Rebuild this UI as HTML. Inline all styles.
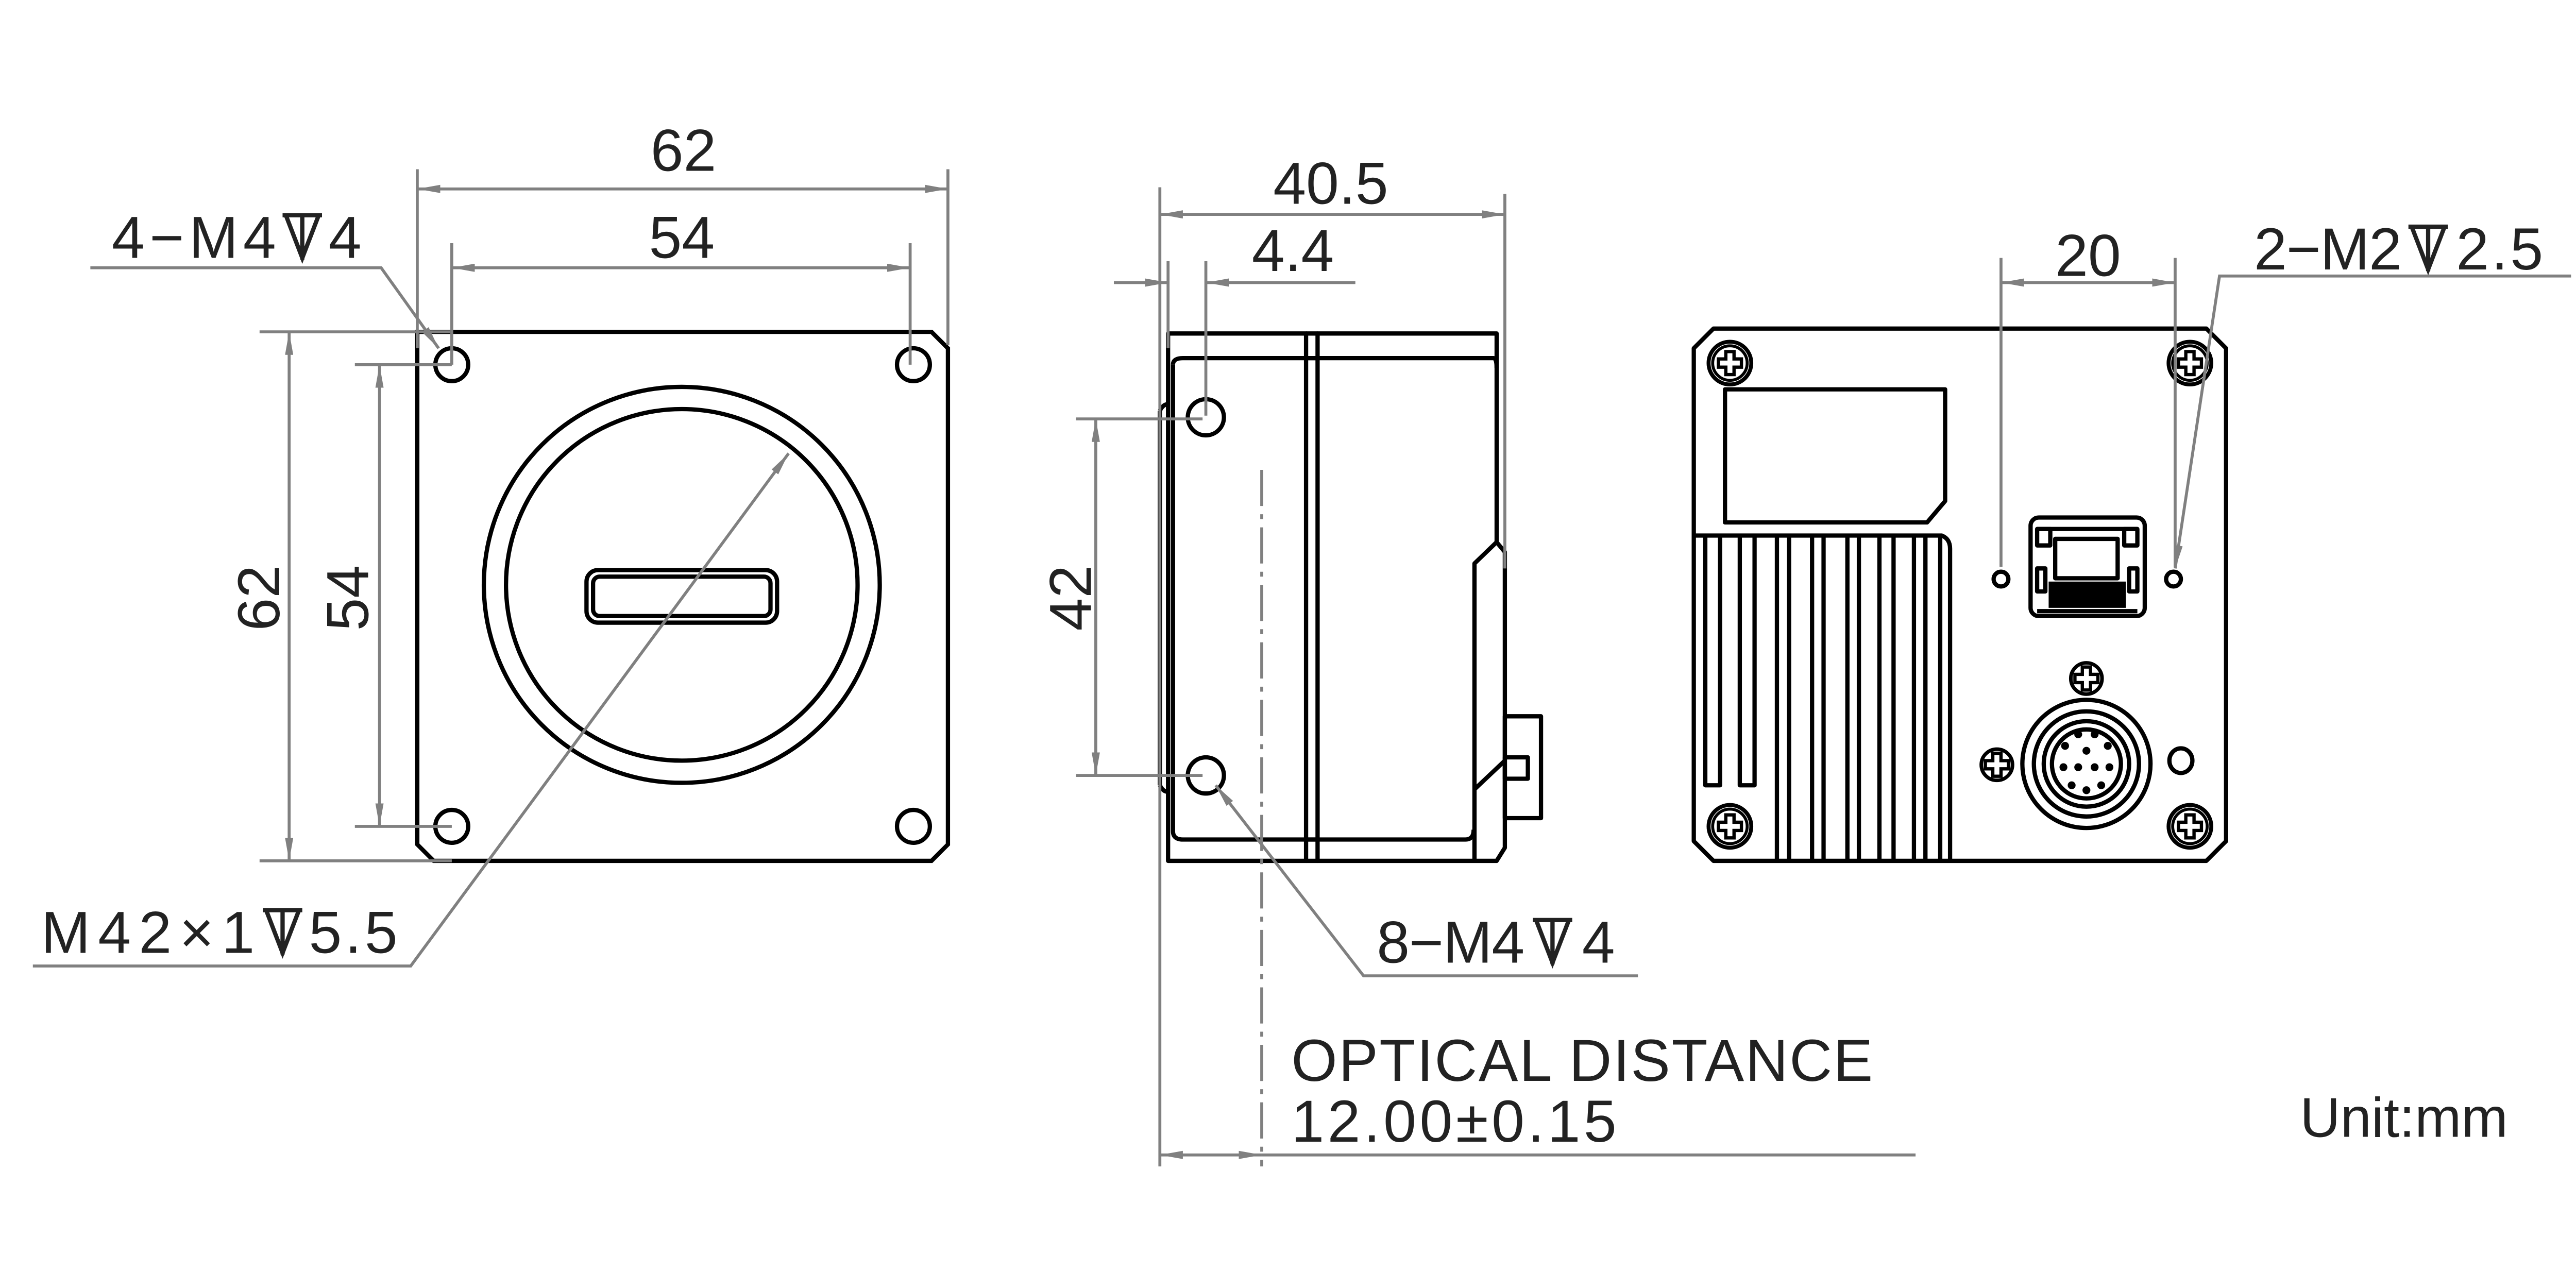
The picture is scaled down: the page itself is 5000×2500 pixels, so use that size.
<!DOCTYPE html>
<html><head><meta charset="utf-8"><style>html,body{margin:0;padding:0;background:#fff}svg{display:block}</style></head>
<body>
<svg xmlns="http://www.w3.org/2000/svg" width="5000" height="2500" viewBox="0 0 1568 784">
<defs>
<marker id="a" viewBox="0 0 14 5" refX="14" refY="2.5" markerWidth="14" markerHeight="5" markerUnits="userSpaceOnUse" orient="auto-start-reverse"><path d="M0,0 L14,2.5 L0,5 Z" fill="#808080"/></marker>
<g id="scr"><circle r="13" fill="none" stroke="#000" stroke-width="2.4"/><circle r="10.5" fill="none" stroke="#000" stroke-width="1.8"/><path d="M-2.5,-7 h5 v4.5 h4.5 v5 h-4.5 v4.5 h-5 v-4.5 h-4.5 v-5 h4.5 z" fill="none" stroke="#000" stroke-width="2"/></g>
<g id="scr2"><circle r="9.5" fill="none" stroke="#000" stroke-width="2.2"/><path d="M-2.5,-7 h5 v4.5 h4.5 v5 h-4.5 v4.5 h-5 v-4.5 h-4.5 v-5 h4.5 z" fill="none" stroke="#000" stroke-width="2"/></g>
<g id="dep"><path d="M0,0 H24 M2,0 L12,26 L22,0 M12,0 V27" fill="none" stroke="#222" stroke-width="2.6"/></g>
</defs>
<g font-family="Liberation Sans, sans-serif" font-size="36" fill="#222">

<!-- FRONT VIEW -->
<g fill="none" stroke="#000" stroke-width="2.6">
<path d="M254,202 H567 L577,212 V514 L567,524 H264 L254,514 Z"/>
<circle cx="275" cy="222" r="10"/><circle cx="556" cy="222" r="10"/>
<circle cx="275" cy="503" r="10"/><circle cx="556" cy="503" r="10"/>
<circle cx="415" cy="356" r="120.5"/><circle cx="415" cy="356" r="107"/>
<rect x="357" y="347" width="116" height="32" rx="7"/>
<rect x="361" y="351" width="108" height="24" rx="4"/>
</g>
<g fill="none" stroke="#808080" stroke-width="1.8">
<path d="M254,103 V212 M577,103 V210 M275,148 V222 M554,148 V222"/>
<path d="M254,115 H577" marker-start="url(#a)" marker-end="url(#a)"/>
<path d="M275,163 H554" marker-start="url(#a)" marker-end="url(#a)"/>
<path d="M158,202 H274 M158,524 H275 M216,222 H275 M216,503 H275"/>
<path d="M176,202 V524" marker-start="url(#a)" marker-end="url(#a)"/>
<path d="M231,222 V503" marker-start="url(#a)" marker-end="url(#a)"/>
<path d="M55,163 H232 L267,212" marker-end="url(#a)"/>
<path d="M20,588 H250 L480,276" marker-end="url(#a)"/>
</g>
<text x="416" y="104" text-anchor="middle">62</text>
<text x="415" y="157" text-anchor="middle">54</text>
<text transform="translate(170,364) rotate(-90)" text-anchor="middle">62</text>
<text transform="translate(224,364) rotate(-90)" text-anchor="middle">54</text>
<text x="68" y="157" textLength="100">4−M4</text><use href="#dep" x="172" y="131"/><text x="200" y="157">4</text>
<text x="25" y="580" textLength="130">M42×1</text><use href="#dep" x="160" y="554"/><text x="188" y="580" textLength="54">5.5</text>

<!-- SIDE VIEW -->
<g fill="none" stroke="#000" stroke-width="2.6" stroke-linejoin="round">
<path d="M711,203 V524 H795 V203 Z"/>
<path d="M706,250 V478 M706,250 Q708,246 711,246 M706,478 Q708,482 711,482"/>
<path d="M795,203 H802 M795,218 H802 M795,511 H802 M795,524 H802"/>
<path d="M802,203 H911 V330 L916,336 V516 L911,524 H802 Z"/>
<path d="M911,330 L897.5,343 V524"/>
<path d="M898,480 L916,463"/>
<path d="M714,222 Q714,218 720,218 H909 Q911,218 911,224"/>
<path d="M714,222 V506 Q714,511 720,511 H892 Q897,511 897,505"/>
<rect x="916" y="436" width="22" height="62"/>
<rect x="916" y="461" width="14" height="13"/>
<circle cx="734" cy="254" r="11"/><circle cx="734" cy="472" r="11"/>
</g>
<g fill="none" stroke="#808080" stroke-width="1.8">
<path d="M706,114 V710 M916,118 V346"/>
<path d="M706,130.5 H916" marker-start="url(#a)" marker-end="url(#a)"/>
<path d="M711,159 V212 M734,159 V253"/>
<path d="M678,172 H711" marker-end="url(#a)"/>
<path d="M825,172 H734" marker-end="url(#a)"/>
<path d="M655,255 H732 M655,472 H732"/>
<path d="M667,255 V472" marker-start="url(#a)" marker-end="url(#a)"/>
<path d="M768,286 V710" stroke-dasharray="22,5,3,5"/>
<path d="M997,594 H830 L740,478" marker-end="url(#a)"/>
<path d="M706,703 H768" marker-start="url(#a)" marker-end="url(#a)"/>
<path d="M768,703 H1166"/>
</g>
<text x="810" y="124" text-anchor="middle">40.5</text>
<text x="787" y="165" text-anchor="middle">4.4</text>
<text transform="translate(664,364) rotate(-90)" text-anchor="middle">42</text>
<text x="838" y="586" textLength="90">8−M4</text><use href="#dep" x="933" y="560"/><text x="963" y="586">4</text>
<text x="786" y="658" textLength="354">OPTICAL DISTANCE</text>
<text x="786" y="695" textLength="198">12.00±0.15</text>

<!-- REAR VIEW -->
<g fill="none" stroke="#000" stroke-width="2.6" stroke-linejoin="round">
<path d="M1043,200 H1343 L1355,212 V512 L1343,524 H1043 L1031,512 V212 Z"/>
<path d="M1050,237 H1184 V305 L1173,318 H1050 Z"/>
<path d="M1031,326 H1182 Q1187,328 1187,334 V524"/>
<path d="M1038,326 V478 H1047 V326 M1059,326 V478 H1068 V326"/>
<path d="M1081.6,326 V524 M1089,326 V524 M1103,326 V524 M1110,326 V524 M1124.5,326 V524 M1131.5,326 V524 M1144,326 V524 M1152.6,326 V524 M1165,326 V524 M1172,326 V524 M1181,326 V524"/>
<rect x="1236" y="315" width="69.5" height="60" rx="5"/>
<path d="M1240,322 H1301 M1240,372 H1301"/>
<rect x="1251" y="328" width="38" height="24"/>
<rect x="1240" y="322" width="8" height="10"/><rect x="1293" y="322" width="8" height="10"/>
<rect x="1240" y="346" width="5" height="14"/><rect x="1296" y="346" width="5" height="14"/>
<circle cx="1218" cy="352.5" r="4.5"/><circle cx="1323" cy="352.5" r="4.5"/>
<circle cx="1270" cy="465" r="39"/><circle cx="1270" cy="465" r="32"/>
<circle cx="1270" cy="465" r="26"/><circle cx="1270" cy="465" r="21"/>
<ellipse cx="1327.5" cy="463" rx="7" ry="7.5"/>
</g>
<g fill="#000">
<circle cx="1265" cy="447" r="2.4"/><circle cx="1275" cy="447" r="2.4"/>
<circle cx="1257" cy="454" r="2.4"/><circle cx="1270" cy="457" r="2.4"/><circle cx="1283" cy="454" r="2.4"/>
<circle cx="1256" cy="467" r="2.4"/><circle cx="1265" cy="467" r="2.4"/><circle cx="1275" cy="467" r="2.4"/><circle cx="1284" cy="467" r="2.4"/>
<circle cx="1261" cy="478" r="2.4"/><circle cx="1270" cy="481" r="2.4"/><circle cx="1279" cy="478" r="2.4"/>
<rect x="1247" y="354" width="47" height="16"/>
</g>
<use href="#scr" x="1053" y="221"/><use href="#scr" x="1333" y="221"/>
<use href="#scr" x="1053" y="503"/><use href="#scr" x="1333" y="503"/>
<use href="#scr2" x="1270" y="413"/><use href="#scr2" x="1215.5" y="465.5"/>
<g fill="none" stroke="#808080" stroke-width="1.8">
<path d="M1218,157 V345 M1324,157 V345"/>
<path d="M1218,172 H1324" marker-start="url(#a)" marker-end="url(#a)"/>
<path d="M1565,168 H1351 L1324,346" marker-end="url(#a)"/>
</g>
<text x="1271" y="168" text-anchor="middle">20</text>
<text x="1372" y="164" textLength="90">2−M2</text><use href="#dep" x="1466" y="138"/><text x="1495" y="164" textLength="53">2.5</text>
<text x="1400" y="692" font-size="34">Unit:mm</text>
</g>
</svg>
</body></html>
